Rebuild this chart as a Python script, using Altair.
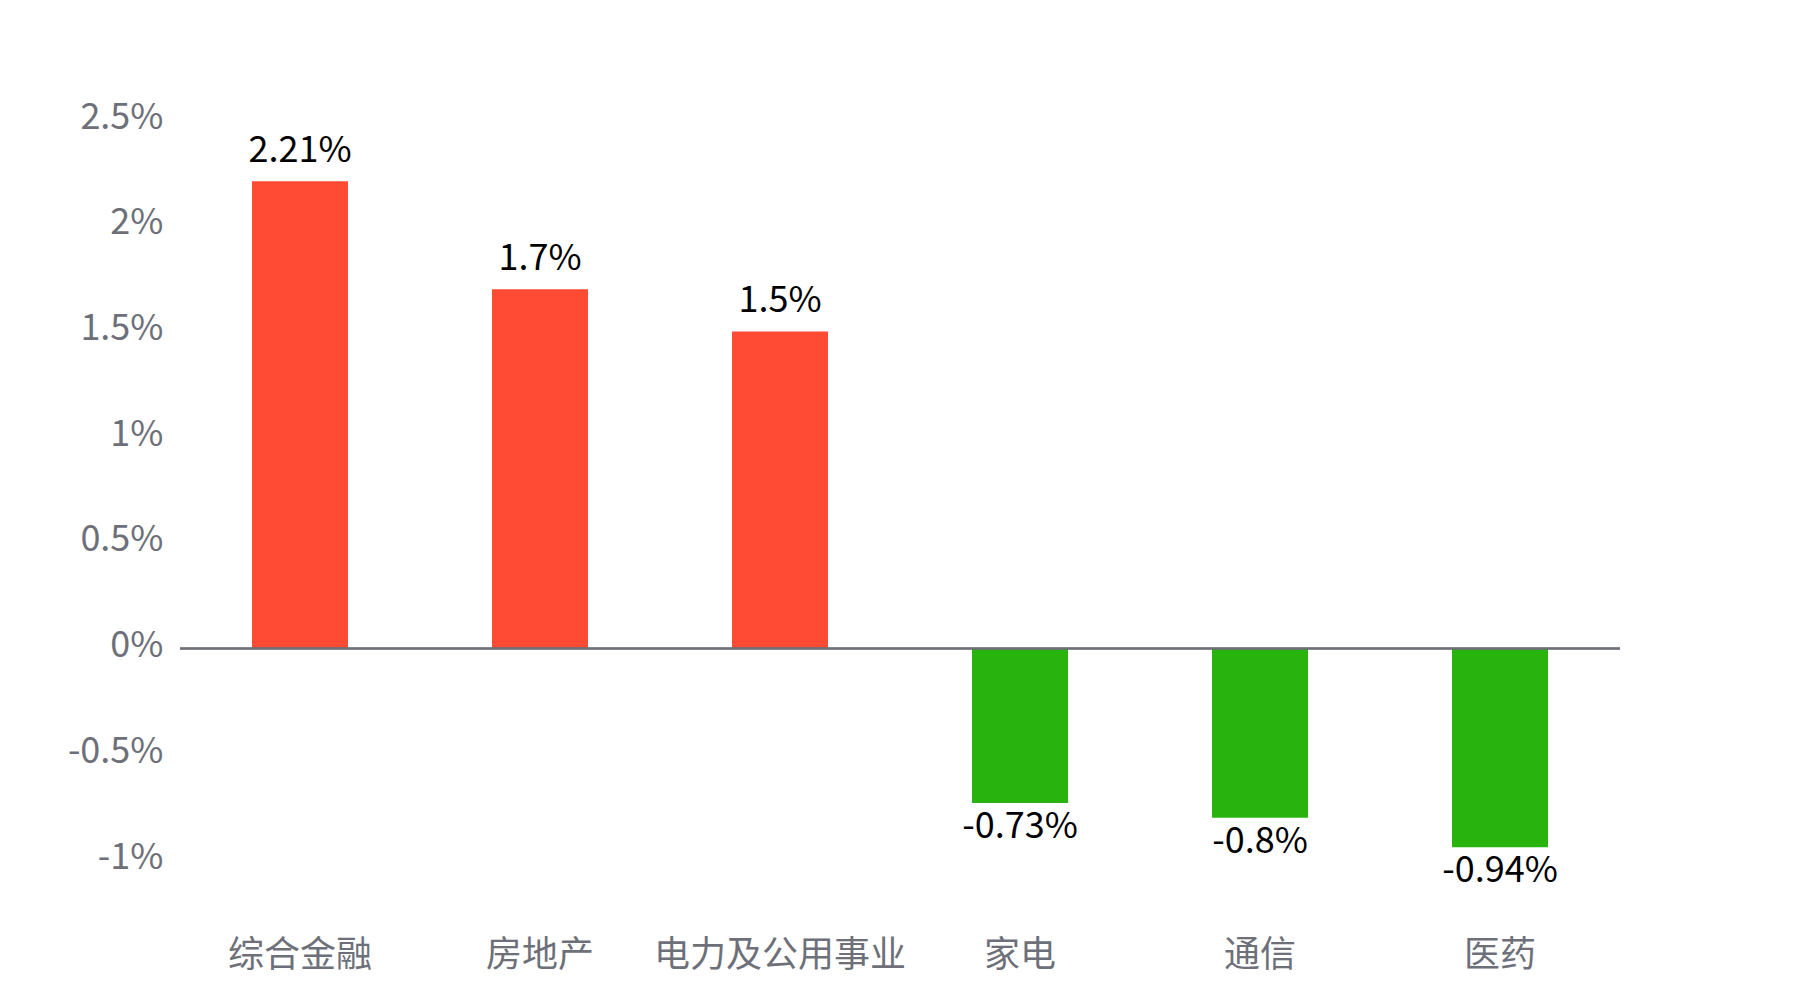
import altair as alt
import pandas as pd

categories = ["综合金融", "房地产", "电力及公用事业", "家电", "通信", "医药"]
values = [2.21, 1.7, 1.5, -0.73, -0.8, -0.94]
labels = ["2.21%", "1.7%", "1.5%", "-0.73%", "-0.8%", "-0.94%"]

df = pd.DataFrame({"cat": categories, "val": values, "label": labels})
df["sign"] = ["pos" if v >= 0 else "neg" for v in values]

FONT = "Noto Sans CJK SC"
GRAY = "#6E7079"
W, H = 1440, 740

x = alt.X("cat:N", sort=categories, title=None,
          scale=alt.Scale(paddingInner=0, paddingOuter=0),
          axis=alt.Axis(domain=False, ticks=False, labelAngle=0, labelFontSize=36,
                        labelColor=GRAY, labelFont=FONT, labelPadding=78,
                        labelBaseline="top", labelLimit=0))
y = alt.Y("val:Q", title=None,
          scale=alt.Scale(domain=[-1, 2.5], nice=False, zero=False),
          axis=alt.Axis(values=[-1, -0.5, 0, 0.5, 1, 1.5, 2, 2.5],
                        labelExpr="datum.value + '%'", domain=False, ticks=False,
                        grid=False, labelFontSize=36, labelColor=GRAY, labelFont=FONT,
                        labelPadding=17, labelOffset=-3))

bars = alt.Chart(df).mark_bar(size=96).encode(
    x=x,
    y=y,
    y2=alt.datum(0),
    color=alt.Color("sign:N", scale=alt.Scale(domain=["pos", "neg"],
                                              range=["#FF4B33", "#28B30F"]), legend=None),
)

zero = alt.Chart(df).mark_rule(color=GRAY, strokeWidth=1.5).encode(
    y=alt.datum(0),
    x=alt.value(0), x2=alt.value(W),
)

pos_text = alt.Chart(df).transform_filter("datum.val >= 0").mark_text(
    baseline="bottom", dy=-11, fontSize=36, font=FONT, color="#000000"
).encode(x=alt.X("cat:N", sort=categories), y="val:Q", text="label:N")

neg_text = alt.Chart(df).transform_filter("datum.val < 0").mark_text(
    baseline="top", dy=7, fontSize=36, font=FONT, color="#000000"
).encode(x=alt.X("cat:N", sort=categories), y="val:Q", text="label:N")

chart = alt.layer(bars, zero, pos_text, neg_text).properties(
    width=W, height=H,
    background="white",
    autosize=alt.AutoSizeParams(type="none"),
    padding={"left": 172, "top": 112, "right": 170, "bottom": 130},
).configure_view(stroke=None)

chart.save("out.html", embed_options={"renderer": "svg", "actions": False})
